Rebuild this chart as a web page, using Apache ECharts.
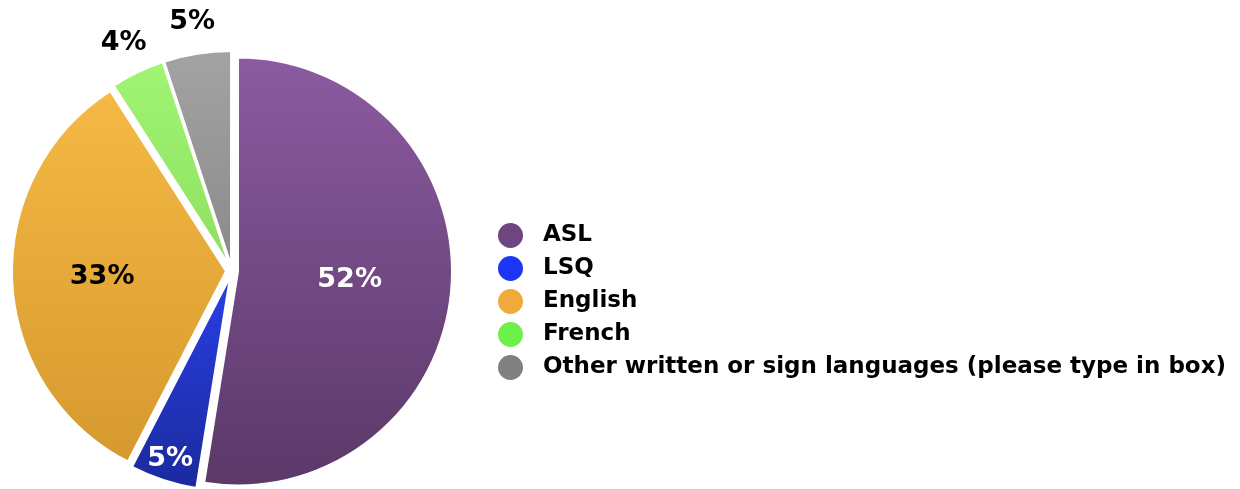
<!DOCTYPE html>
<html>
<head>
<meta charset="utf-8">
<script src="https://cdn.jsdelivr.net/npm/echarts@6/dist/echarts.min.js"></script>
<style>
  html, body { margin: 0; padding: 0; background: #ffffff; }
  #chart { width: 1240px; height: 489px; }
</style>
</head>
<body>
<div id="chart"></div>
<script>
const categories = ['ASL', 'LSQ', 'English', 'French', 'Other written or sign languages (please type in box)'];
const values = [52, 5, 33, 4, 5];
const percentLabels = ['52%', '5%', '33%', '4%', '5%'];
const topColors = ['#8c5ba1', '#2a3fe6', '#f5b944', '#a2f573', '#a3a3a3'];
const bottomColors = ['#5a3868', '#1a2a9e', '#d6992f', '#8de060', '#8a8a8a'];
const legendColors = ['#6d4580', '#1c36f5', '#f0aa3c', '#6ef04a', '#808080'];

const CX = 232, CY = 271, R = 214;
const FONT = '"DejaVu Sans", "Liberation Sans", Arial, sans-serif';

function grad(i) {
  return new echarts.graphic.LinearGradient(0, 0, 0, 1, [
    { offset: 0, color: topColors[i] },
    { offset: 1, color: bottomColors[i] }
  ]);
}

// label groups: slices whose label sits at a given radius, and its colour
const labelGroups = [
  { idx: [0], labelR: 115, color: '#ffffff' },
  { idx: [2], labelR: 127, color: '#000000' },
  { idx: [1], labelR: 195, color: '#ffffff' },
  { idx: [3, 4], labelR: 249, color: '#000000' }
];

const series = [{
  type: 'pie',
  center: [CX, CY],
  radius: [0, R],
  startAngle: 90,
  clockwise: true,
  selectedMode: 'multiple',
  selectedOffset: 6,
  animation: false,
  silent: true,
  label: { show: false },
  labelLine: { show: false },
  data: categories.map((c, i) => ({
    name: c,
    value: values[i],
    selected: true,
    itemStyle: { color: grad(i), borderColor: '#ffffff', borderWidth: 2 }
  }))
}];

labelGroups.forEach(g => {
  series.push({
    type: 'pie',
    center: [CX, CY],
    radius: [0, g.labelR * 2],
    startAngle: 90,
    clockwise: true,
    animation: false,
    silent: true,
    z: 5,
    itemStyle: { color: 'rgba(0,0,0,0)' },
    emphasis: { disabled: true },
    labelLine: { show: false },
    label: {
      show: true,
      position: 'inside',
      fontFamily: FONT,
      fontWeight: 'bold',
      fontSize: 27,
      color: g.color,
      formatter: p => percentLabels[p.dataIndex]
    },
    data: categories.map((c, i) => ({
      name: c,
      value: values[i],
      label: { show: g.idx.indexOf(i) >= 0 },
      itemStyle: { color: 'rgba(0,0,0,0)' }
    }))
  });
});

const chart = echarts.init(document.getElementById('chart'), null, { renderer: 'canvas' });
chart.setOption({
  backgroundColor: '#ffffff',
  animation: false,
  legend: {
    orient: 'vertical',
    left: 496,
    top: 221,
    padding: 0,
    icon: 'circle',
    itemWidth: 27,
    itemHeight: 27,
    itemGap: 4,
    selectedMode: false,
    textStyle: {
      fontFamily: FONT,
      fontWeight: 'bold',
      fontSize: 23,
      lineHeight: 27,
      color: '#000000',
      padding: [0, 0, 0, 14]
    },
    data: categories.map((c, i) => ({ name: c, itemStyle: { color: legendColors[i] } }))
  },
  series: series
});
</script>
</body>
</html>
